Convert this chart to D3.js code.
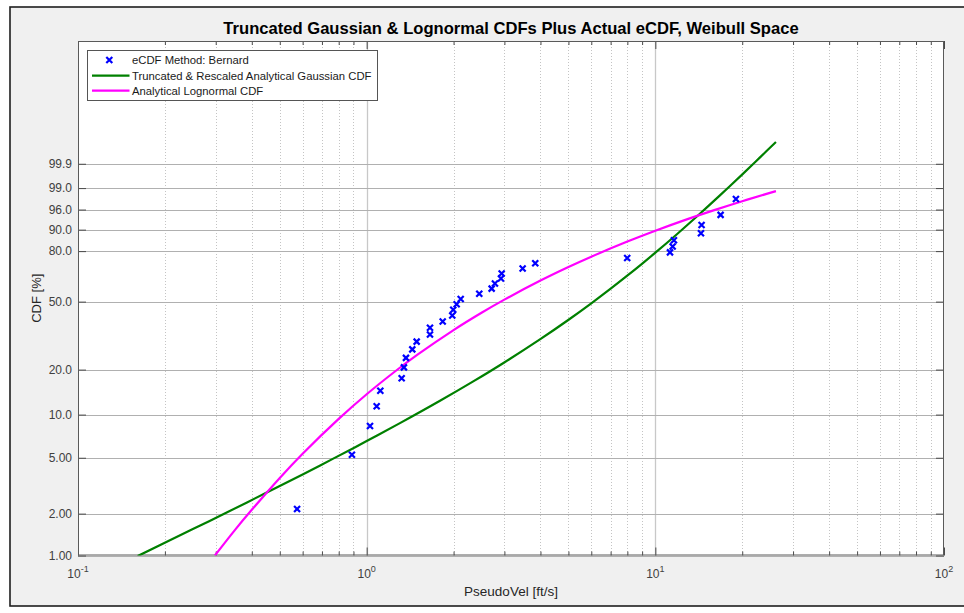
<!DOCTYPE html>
<html><head><meta charset="utf-8">
<script src="https://cdn.jsdelivr.net/npm/d3@7"></script>
<style>html,body{margin:0;padding:0;background:#fff;} svg{display:block;font-family:"Liberation Sans",Arial,Helvetica,sans-serif;}</style>
</head><body><svg id="c" width="964" height="613"></svg>
<script>
// ---- data ----
const ecdfVel = [0.574, 0.889, 1.027, 1.083, 1.115, 1.322, 1.346, 1.368, 1.439, 1.490, 1.657, 1.657, 1.834, 1.979, 1.995, 2.050, 2.117, 2.455, 2.710, 2.782, 2.919, 2.935, 3.470, 3.837, 7.99, 11.24, 11.48, 11.60, 14.39, 14.46, 16.83, 19.02];
const ecdfPct = [2.16, 5.25, 8.33, 11.42, 14.51, 17.59, 20.68, 23.77, 26.85, 29.94, 33.02, 36.11, 39.20, 42.28, 45.37, 48.46, 51.54, 54.63, 57.72, 60.80, 63.89, 66.98, 70.06, 73.15, 76.23, 79.32, 82.41, 85.49, 88.58, 91.67, 94.75, 97.84];

const gaussVel = [0.161, 0.25, 0.317, 0.447, 0.6, 0.766, 1.0, 1.304, 1.795, 2.340, 2.997, 3.983, 4.992, 6.016, 7.003, 7.992, 9.009, 10.05, 11.85, 14.08, 16.74, 20.06, 23.0, 26.17];
const gaussPct = [0.99, 1.55, 1.97, 2.81, 3.81, 4.93, 6.55, 8.73, 12.42, 16.74, 22.22, 30.86, 39.97, 49.17, 57.69, 65.62, 72.95, 79.42, 88.05, 94.64, 98.30, 99.702, 99.9524, 99.99517];

const lognVel = [0.298, 0.35, 0.4, 0.5, 0.6, 0.8, 1.0, 1.25, 1.5, 2.0, 2.5, 3.0, 4.0, 5.0, 6.0, 8.0, 10, 13, 16, 20, 26.17];
const lognPct = [1.00, 1.53, 2.13, 3.60, 5.34, 9.35, 13.75, 19.37, 24.89, 35.03, 43.77, 51.16, 62.65, 70.90, 76.93, 84.85, 89.57, 93.64, 95.88, 97.53, 98.74];

const yTickValues = [1, 2, 5, 10, 20, 50, 80, 90, 96, 99, 99.9];
const yTickLabels = ["1.00", "2.00", "5.00", "10.0", "20.0", "50.0", "80.0", "90.0", "96.0", "99.0", "99.9"];
const xMajorTicks = [0.1, 1, 10, 100];
const xTickExponents = ["-1", "0", "1", "2"];
const legendLabels = ["eCDF Method: Bernard", "Truncated & Rescaled Analytical Gaussian CDF", "Analytical Lognormal CDF"];
const titleText = "Truncated Gaussian & Lognormal CDFs Plus Actual eCDF, Weibull Space";
const xLabelText = "PseudoVel [ft/s]";
const yLabelText = "CDF [%]";

// ---- layout ----
const m = {left: 78, top: 41, right: 944, bottom: 555.5};
const weib = p => Math.log(-Math.log(1 - p / 100));
const x = d3.scaleLog().domain([0.1, 100]).range([m.left, m.right]);
const y = d3.scaleLinear().domain([weib(1), 3.98]).range([m.bottom, m.top]);

const svg = d3.select("#c");
svg.append("rect").attr("x", 10).attr("y", 7).attr("width", 980).attr("height", 599)
  .attr("fill", "#f0f0f0").attr("stroke", "#1e1e1e").attr("stroke-width", 1.6);

svg.append("rect").attr("x", m.left).attr("y", m.top).attr("width", m.right - m.left).attr("height", m.bottom - m.top)
  .attr("fill", "#fff");

svg.append("defs").append("clipPath").attr("id", "clip").append("rect")
  .attr("x", m.left).attr("y", m.top).attr("width", m.right - m.left).attr("height", m.bottom - m.top);

// minor vertical grid (dotted)
const minorTicks = [];
[0.1, 1, 10].forEach(d => { for (let k = 2; k <= 9; k++) minorTicks.push(d * k); });
const grid = svg.append("g");
grid.selectAll(".mg").data(minorTicks).join("line")
  .attr("x1", d => Math.round(x(d)) + 0.5).attr("x2", d => Math.round(x(d)) + 0.5)
  .attr("y1", m.top).attr("y2", m.bottom)
  .attr("stroke", "#c4c4c4").attr("stroke-width", 1).attr("stroke-dasharray", "1,2");
grid.selectAll(".vg").data(xMajorTicks.slice(1, -1)).join("line")
  .attr("x1", d => Math.round(x(d)) + 0.5).attr("x2", d => Math.round(x(d)) + 0.5)
  .attr("y1", m.top).attr("y2", m.bottom)
  .attr("stroke", "#c8c8c8").attr("stroke-width", 1.3);
grid.selectAll(".hg").data(yTickValues).join("line")
  .attr("x1", m.left).attr("x2", m.right)
  .attr("y1", d => Math.round(y(weib(d))) + 0.5).attr("y2", d => Math.round(y(weib(d))) + 0.5)
  .attr("stroke", "#b0b0b0").attr("stroke-width", 1.2);

// axes (ticks inward)
const tickCol = "#4a4a4a";
function styleAxis(g) {
  g.select(".domain").remove();
  g.selectAll(".tick line").attr("stroke", tickCol);
  g.selectAll(".tick text").attr("fill", "#404040").attr("font-size", 12)
   .attr("font-family", '"Liberation Sans",Arial,Helvetica,sans-serif');
}
svg.append("g").attr("transform", `translate(${m.left},0)`)
  .call(d3.axisLeft(y).tickValues(yTickValues.map(weib)).tickFormat((d, i) => yTickLabels[i])
    .tickSizeInner(-8).tickSizeOuter(0).tickPadding(6)).call(styleAxis);
svg.append("g").attr("transform", `translate(${m.right},0)`)
  .call(d3.axisRight(y).tickValues(yTickValues.map(weib)).tickFormat("")
    .tickSizeInner(-8).tickSizeOuter(0)).call(styleAxis);
[[m.bottom, d3.axisBottom], [m.top, d3.axisTop]].forEach(([yy, ax]) => {
  svg.append("g").attr("transform", `translate(0,${yy})`)
    .call(ax(x).tickValues(xMajorTicks).tickFormat("").tickSizeInner(-8).tickSizeOuter(0)).call(styleAxis);
  svg.append("g").attr("transform", `translate(0,${yy})`)
    .call(ax(x).tickValues(minorTicks).tickFormat("").tickSizeInner(-4).tickSizeOuter(0)).call(styleAxis);
});

// x tick labels 10^n
const xl = svg.append("g").attr("font-size", 12).attr("fill", "#404040");
xMajorTicks.forEach((v, i) => {
  const t = xl.append("text").attr("x", x(v)).attr("y", 578).attr("text-anchor", "middle");
  t.append("tspan").text("10");
  t.append("tspan").attr("dy", -6).attr("font-size", 9).text(xTickExponents[i]);
});

// axes box
svg.append("rect").attr("x", m.left + 0.5).attr("y", m.top + 0.5)
  .attr("width", m.right - m.left - 1).attr("height", m.bottom - m.top - 1)
  .attr("fill", "none").attr("stroke", "#5a5a5a").attr("stroke-width", 1);

// curves
const line = d3.line().x(d => x(d[0])).y(d => y(weib(d[1]))).curve(d3.curveCatmullRom.alpha(0.5));
const plot = svg.append("g").attr("clip-path", "url(#clip)");
plot.append("path").datum(gaussVel.map((v, i) => [v, gaussPct[i]]))
  .attr("d", line).attr("fill", "none").attr("stroke", "#008000").attr("stroke-width", 2.2);
plot.append("path").datum(lognVel.map((v, i) => [v, lognPct[i]]))
  .attr("d", line).attr("fill", "none").attr("stroke", "#ff00ff").attr("stroke-width", 2.2);

const xMark = "M-3,-3L3,3M-3,3L3,-3";
plot.selectAll(".pt").data(ecdfVel.map((v, i) => [v, ecdfPct[i]])).join("path")
  .attr("d", xMark).attr("transform", d => `translate(${x(d[0])},${y(weib(d[1]))})`)
  .attr("stroke", "#0000ff").attr("stroke-width", 2.2).attr("fill", "none");

// legend
const lg = svg.append("g");
lg.append("rect").attr("x", 87.5).attr("y", 50.5).attr("width", 290).attr("height", 50)
  .attr("fill", "#fff").attr("stroke", "#555").attr("stroke-width", 1);
const rows = [60, 75.7, 90.7];
lg.append("path").attr("d", xMark).attr("transform", `translate(109.3,${rows[0]})`)
  .attr("stroke", "#0000ff").attr("stroke-width", 2.2).attr("fill", "none");
lg.append("line").attr("x1", 92).attr("x2", 129.5).attr("y1", rows[1]).attr("y2", rows[1])
  .attr("stroke", "#008000").attr("stroke-width", 2.2);
lg.append("line").attr("x1", 92).attr("x2", 129.5).attr("y1", rows[2]).attr("y2", rows[2])
  .attr("stroke", "#ff00ff").attr("stroke-width", 2.2);
legendLabels.forEach((t, i) => {
  lg.append("text").attr("x", 132).attr("y", rows[i]).attr("dy", "0.35em")
    .attr("font-size", 11.3).attr("fill", "#1a1a1a").text(t);
});

// title and axis labels
svg.append("text").attr("x", (m.left + m.right) / 2).attr("y", 34).attr("text-anchor", "middle")
  .attr("font-size", 16.6).attr("font-weight", "bold").attr("fill", "#000").text(titleText);
svg.append("text").attr("x", (m.left + m.right) / 2).attr("y", 596).attr("text-anchor", "middle")
  .attr("font-size", 13.5).attr("fill", "#262626").text(xLabelText);
svg.append("text").attr("transform", `translate(41,${(m.top + m.bottom) / 2}) rotate(-90)`)
  .attr("text-anchor", "middle").attr("font-size", 13).attr("fill", "#262626").text(yLabelText);
</script></body></html>
